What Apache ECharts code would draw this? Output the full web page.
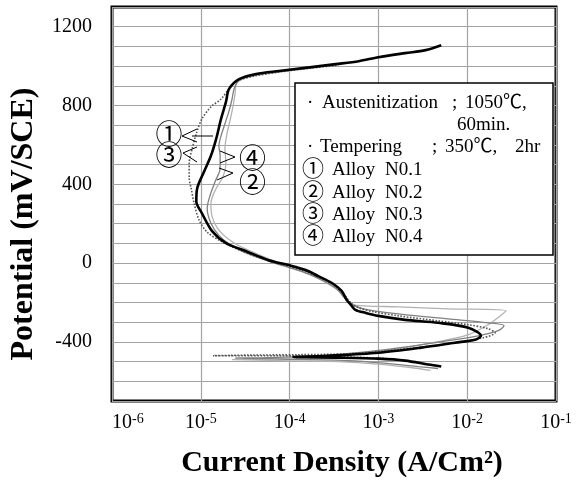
<!DOCTYPE html>
<html>
<head>
<meta charset="utf-8">
<script src="https://cdn.jsdelivr.net/npm/echarts@6/dist/echarts.min.js"></script>
<style>
  html, body { margin: 0; padding: 0; background: #fff; }
  #chart { width: 582px; height: 483px; }
</style>
</head>
<body>
<div id="chart"></div>
<script>
// polarization curves, [current density (A/cm2), potential (mV/SCE)] in scan order
const alloy1 = [
  [5.1e-3, -525], [3.65e-3, -515], [2.0e-3, -495], [1.0e-3, -485], [3.6e-4, -480], [1.1e-4, -477],
  [2.75e-4, -470], [1.0e-3, -455], [3.05e-3, -429],
  [7.3e-3, -404], [1.23e-2, -389], [1.43e-2, -369], [1.03e-2, -328], [4.7e-3, -303], [2.0e-3, -288],
  [1.0e-3, -268], [7.2e-4, -253], [5.5e-4, -237], [4.9e-4, -212], [4.4e-4, -187], [3.85e-4, -141],
  [3.0e-4, -101], [2.1e-4, -66], [1.52e-4, -35], [9.8e-5, -10], [5.8e-5, 15], [3.2e-5, 61],
  [1.92e-5, 101], [1.34e-5, 162], [1.03e-5, 253], [8.9e-6, 313], [9.1e-6, 379], [1.09e-5, 465],
  [1.3e-5, 545], [1.49e-5, 631], [1.69e-5, 732], [1.92e-5, 818], [2.08e-5, 884], [2.7e-5, 934],
  [4.2e-5, 960], [7.6e-5, 975], [1.77e-4, 995], [3.3e-4, 1010], [6.0e-4, 1025], [1.0e-3, 1045],
  [2.0e-3, 1066], [3.4e-3, 1081], [5.1e-3, 1106]
]
const alloy2 = [
  [3.85e-3, -545], [2.3e-3, -530], [1.15e-3, -515], [3.56e-4, -500], [7.6e-5, -495], [2.25e-5, -490],
  [2.7e-5, -490], [1.27e-4, -480], [4.6e-4, -465], [1.68e-3, -434], [4.7e-3, -399], [1.03e-2, -363],
  [1.72e-2, -313], [2.35e-2, -268], [2.74e-2, -242], [6.1e-3, -232], [1.68e-3, -222], [5.0e-4, -212],
  [4.28e-4, -182], [3.57e-4, -141], [2.6e-4, -101], [1.78e-4, -61], [1.15e-4, -25], [6.8e-5, 10],
  [3.86e-5, 56], [2.3e-5, 106], [1.6e-5, 167], [1.34e-5, 237], [1.3e-5, 303], [1.45e-5, 369],
  [1.78e-5, 439], [1.92e-5, 505], [1.87e-5, 581], [1.97e-5, 657], [2.13e-5, 722], [2.3e-5, 793],
  [2.43e-5, 859], [2.55e-5, 914], [3.5e-5, 945], [7.0e-5, 968], [1.6e-4, 988]
]
const alloy3 = [
  [4.27e-3, -520], [1.68e-3, -490], [7.7e-4, -480], [2.75e-4, -475], [7.6e-5, -470], [2.7e-5, -470],
  [1.37e-5, -470], [3.5e-5, -467], [1.27e-4, -465], [4.6e-4, -460], [1.68e-3, -439], [6.1e-3, -409],
  [1.51e-2, -379], [2.06e-2, -354], [1.72e-2, -333], [1.03e-2, -313], [4.7e-3, -293], [1.68e-3, -268],
  [8.8e-4, -247], [6.0e-4, -227], [4.9e-4, -202], [4.06e-4, -157], [3.13e-4, -111], [2.24e-4, -76],
  [1.45e-4, -40], [8.6e-5, -10], [5.1e-5, 20], [2.9e-5, 61], [1.69e-5, 111], [1.18e-5, 157],
  [9.6e-6, 217], [8.4e-6, 303], [7.8e-6, 379], [7.4e-6, 429], [7.4e-6, 505], [8.0e-6, 581],
  [8.9e-6, 657], [1.03e-5, 732], [1.3e-5, 793], [1.69e-5, 833], [2.08e-5, 884], [2.55e-5, 924],
  [3.96e-5, 949], [7.6e-5, 970], [1.77e-4, 990], [3.56e-4, 1005]
]
const alloy4 = [
  [4.7e-3, -535], [2.8e-3, -525], [1.3e-3, -510], [4.6e-4, -495], [7.6e-5, -487], [2.43e-5, -482],
  [5.8e-5, -480], [2.13e-4, -470], [7.7e-4, -449], [2.18e-3, -424], [6.1e-3, -394], [1.33e-2, -369],
  [2.23e-2, -343], [2.6e-2, -318], [1.72e-2, -303], [6.1e-3, -283], [1.68e-3, -258], [6.8e-4, -232],
  [4.9e-4, -207], [4.07e-4, -172], [3.4e-4, -131], [2.42e-4, -91], [1.64e-4, -56], [1.03e-4, -25],
  [6.2e-5, 5], [3.5e-5, 45], [2.19e-5, 91], [1.6e-5, 141], [1.3e-5, 202], [1.18e-5, 278],
  [1.27e-5, 343], [1.45e-5, 414], [1.65e-5, 480], [1.65e-5, 545], [1.6e-5, 596], [1.69e-5, 646],
  [1.87e-5, 707], [2.08e-5, 773], [2.25e-5, 833], [2.37e-5, 884], [2.7e-5, 930], [4.2e-5, 957],
  [7.6e-5, 972], [1.77e-4, 992], [3.3e-4, 1007]
]

const yLabels = [-400, 0, 400, 800, 1200]
const alloyNames = ['Alloy', 'Alloy', 'Alloy', 'Alloy']
const alloyNos = ['N0.1', 'N0.2', 'N0.3', 'N0.4']
const circled = ['①', '②', '③', '④']

const serif = "'Liberation Serif', 'Noto Sans CJK KR', serif"
const chart = echarts.init(document.getElementById('chart'))

function curve(data, color, width, type) {
  return {
    type: 'line',
    data: data,
    showSymbol: false,
    smooth: 0.3,
    silent: true,
    lineStyle: { color: color, width: width, type: type || 'solid' }
  }
}

function txt(t, x, y, size, align) {
  return {
    type: 'text', x: x, y: y, z: 101,
    style: {
      text: t, font: size + 'px ' + serif, fill: '#000',
      textAlign: align || 'left', textVerticalAlign: 'middle'
    }
  }
}

// text block in the upper right
const noteGraphics = [
  txt('·', 307, 103, 19), txt('Austenitization', 322, 103, 19), txt(';', 452, 103, 19), txt('1050℃,', 465, 103, 19),
  txt('60min.', 457, 125, 19),
  txt('·', 307, 147, 19), txt('Tempering', 320, 147, 19), txt(';', 432, 147, 19), txt('350℃,', 445, 147, 19), txt('2hr', 515, 147, 19)
]
const rowY = [170, 193, 215, 237]
rowY.forEach((y, i) => {
  noteGraphics.push(txt(circled[i], 313, y, 22, 'center'))
  noteGraphics.push(txt(alloyNames[i], 332, y, 19))
  noteGraphics.push(txt(alloyNos[i], 385, y, 19))
})

// circled labels with leader marks
const marks = [
  { t: '①', x: 169, y: 136.5 },
  { t: '③', x: 169, y: 157.5 },
  { t: '④', x: 252.5, y: 161 },
  { t: '②', x: 252.5, y: 185 }
]
const leaders = [
  [[197, 129], [182, 136], [197, 142]],
  [[192, 136], [213, 136]],
  [[197, 147], [183, 153], [197, 162]],
  [[220, 151], [235, 157], [220, 163]],
  [[219, 168], [233, 173], [217, 180]]
]

const option = {
  animation: false,
  backgroundColor: '#fff',
  grid: {
    left: 111, top: 7, right: 26, bottom: 80,
    show: true, borderColor: '#000', borderWidth: 3, backgroundColor: '#fff'
  },
  xAxis: {
    type: 'log',
    logBase: 10,
    min: 1e-6,
    max: 1e-1,
    axisLine: { show: false },
    axisTick: { show: false },
    splitLine: { show: true, lineStyle: { color: '#a3a3a3', width: 1.2 } },
    axisLabel: {
      margin: 11,
      alignMinLabel: 'left',
      formatter: v => '{b|10}{s|' + Math.round(Math.log10(v)) + '}',
      rich: {
        b: { fontSize: 20, fontFamily: serif, color: '#000', lineHeight: 22 },
        s: { fontSize: 14, fontFamily: serif, color: '#000', verticalAlign: 'top', lineHeight: 13 }
      }
    },
    name: 'Current Density (A/Cm²)',
    nameLocation: 'middle',
    nameGap: 47,
    nameTextStyle: { fontSize: 30, fontWeight: 'bold', fontFamily: serif, color: '#000', padding: [0, 0, 0, 16] }
  },
  yAxis: {
    type: 'value',
    min: -700,
    max: 1300,
    interval: 100,
    axisLine: { show: false },
    axisTick: { show: false },
    splitLine: { show: true, lineStyle: { color: '#a3a3a3', width: 1.2 } },
    axisLabel: {
      margin: 20,
      fontSize: 20,
      fontFamily: serif,
      color: '#000',
      formatter: v => (yLabels.indexOf(v) >= 0 ? String(v) : '')
    },
    name: 'Potential (mV/SCE)',
    nameLocation: 'middle',
    nameGap: 72,
    nameTextStyle: { fontSize: 32, fontWeight: 'bold', fontFamily: serif, color: '#000', padding: [0, 40, 0, 0] }
  },
  series: [
    curve(alloy2, '#b3b3b3', 1.3),
    curve(alloy4, '#808080', 1.3),
    curve(alloy3, '#555555', 1.6, 'dotted'),
    curve(alloy1, '#000000', 2.6)
  ],
  graphic: [
    {
      type: 'rect', z: 100,
      shape: { x: 295, y: 83, width: 258, height: 172 },
      style: { fill: '#fff', stroke: '#000', lineWidth: 1.5 }
    },
    ...noteGraphics,
    ...marks.map(m => txt(m.t, m.x, m.y, 27, 'center')),
    ...leaders.map(p => ({
      type: 'polyline', z: 101,
      shape: { points: p },
      style: { stroke: '#000', lineWidth: 1, fill: null }
    }))
  ]
}

chart.setOption(option)
</script>
</body>
</html>
